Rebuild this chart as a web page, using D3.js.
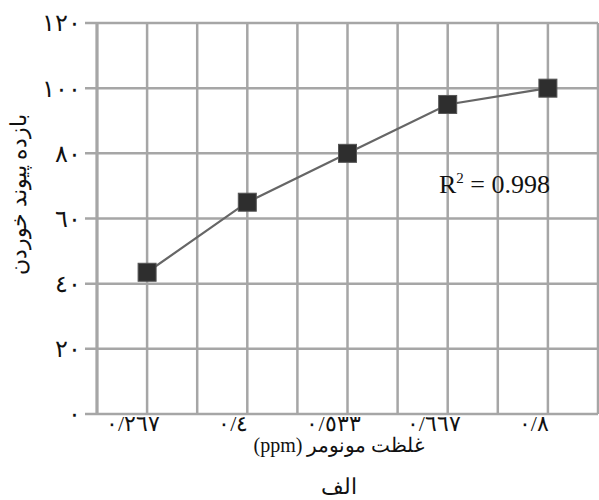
<!DOCTYPE html>
<html>
<head>
<meta charset="utf-8">
<script src="https://cdn.jsdelivr.net/npm/d3@7"></script>
<style>
  html, body { margin: 0; padding: 0; background: #fff; }
  svg { display: block; }
  text { font-family: "Liberation Serif", "Times New Roman", "DejaVu Serif", serif; fill: #111; }
</style>
</head>
<body>
<svg id="chart" width="599" height="500"></svg>
<script>
// Monomer concentration (ppm) categories and grafting yield values
const categories = ["٠/٢٦٧", "٠/٤", "٠/٥٣٣", "٠/٦٦٧", "٠/٨"];
const yieldValues = [43.5, 65, 80, 95, 100];
const yTickValues = [0, 20, 40, 60, 80, 100, 120];
const yTickLabels = ["٠", "٢٠", "٤٠", "٦٠", "٨٠", "١٠٠", "١٢٠"];
const xTitle = "غلظت مونومر (ppm)";
const yTitle = "بازده پیوند خوردن";
const panelLabel = "الف";
const r2Label = "0.998";

const svg = d3.select("#chart");
const margin = { left: 97, right: 1, top: 23, bottom: 86 };
const W = 599, H = 500;
const plotW = W - margin.left - margin.right;
const plotH = H - margin.top - margin.bottom;

const g = svg.append("g").attr("transform", `translate(${margin.left},${margin.top})`);

// Each category occupies two grid columns; points sit at the odd grid lines
const x = d3.scalePoint().domain(categories).range([plotW / 10, plotW * 9 / 10]);
const y = d3.scaleLinear().domain([0, 120]).range([plotH, 0]);

const gridColor = "#a6a6a6";

// Vertical grid lines (half-category spacing)
const step = x.step() / 2;
const vLines = d3.range(0, 11).map(i => i * step);
g.append("g").selectAll("line").data(vLines).join("line")
  .attr("x1", d => d).attr("x2", d => d)
  .attr("y1", 0).attr("y2", plotH)
  .attr("stroke", gridColor).attr("stroke-width", 2.5);

// Horizontal grid lines with short ticks out to the left
g.append("g").selectAll("line").data(yTickValues).join("line")
  .attr("x1", -12).attr("x2", plotW)
  .attr("y1", d => y(d)).attr("y2", d => y(d))
  .attr("stroke", gridColor).attr("stroke-width", 2.5);

// Left axis line
g.append("line").attr("x1", 0).attr("x2", 0).attr("y1", 0).attr("y2", plotH)
  .attr("stroke", gridColor).attr("stroke-width", 3);

// Y tick labels
g.append("g").selectAll("text").data(yTickValues).join("text")
  .attr("x", -16).attr("y", d => y(d)).attr("dy", "0.35em")
  .attr("text-anchor", "end").attr("font-size", 24)
  .text((d, i) => yTickLabels[i]);

// X tick labels
g.append("g").selectAll("text").data(categories).join("text")
  .attr("x", d => x(d) - 14).attr("y", plotH + 17)
  .attr("text-anchor", "middle").attr("font-size", 22)
  .attr("direction", "ltr")
  .text(d => d);

// Data line
const line = d3.line().x((d, i) => x(categories[i])).y(d => y(d));
g.append("path").datum(yieldValues)
  .attr("d", line).attr("fill", "none")
  .attr("stroke", "#666").attr("stroke-width", 2.2);

// Square markers
const ms = 18;
g.append("g").selectAll("rect").data(yieldValues).join("rect")
  .attr("x", (d, i) => x(categories[i]) - ms / 2)
  .attr("y", d => y(d) - ms / 2)
  .attr("width", ms).attr("height", ms)
  .attr("fill", "#2e2e2e").attr("stroke", "#555").attr("stroke-width", 1);

// R² annotation
const r2 = g.append("text")
  .attr("x", x(categories[4]) + 2).attr("y", y(60) - 26)
  .attr("text-anchor", "end").attr("font-size", 26);
r2.append("tspan").text("R");
r2.append("tspan").attr("font-size", 15).attr("dy", -10).text("2");
r2.append("tspan").attr("dy", 10).text(" = " + r2Label);

// Axis titles
svg.append("text")
  .attr("x", 339).attr("y", 452)
  .attr("text-anchor", "middle").attr("font-size", 20)
  .attr("direction", "rtl")
  .text(xTitle);

svg.append("text")
  .attr("x", 339).attr("y", 494)
  .attr("text-anchor", "middle").attr("font-size", 22)
  .text(panelLabel);

svg.append("text")
  .attr("transform", "translate(26,194) rotate(-90)")
  .attr("text-anchor", "middle").attr("font-size", 22)
  .attr("direction", "rtl")
  .text(yTitle);
</script>
</body>
</html>
